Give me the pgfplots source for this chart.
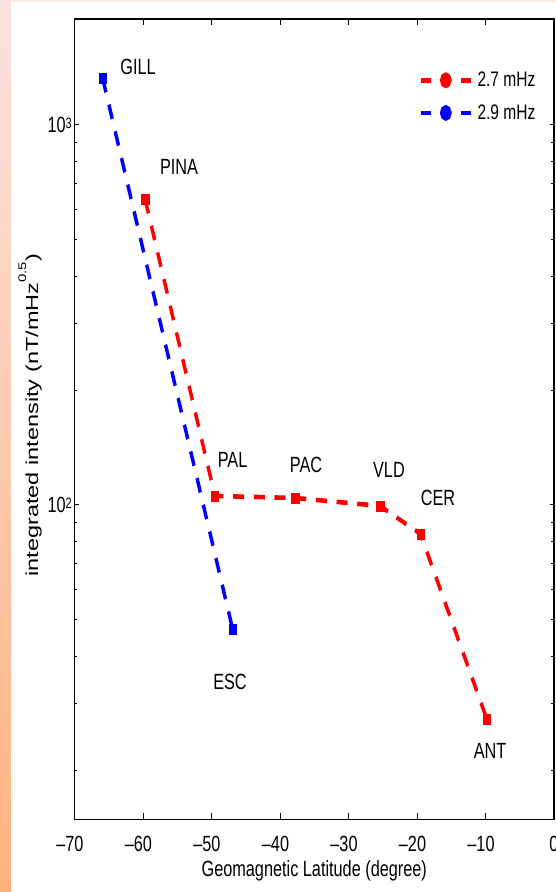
\documentclass[border=0pt]{standalone}
\usepackage{fontspec}
\setmainfont{Liberation Sans}
\usepackage{pgfplots}
\pgfplotsset{compat=1.18}
\definecolor{bgtop}{RGB}{251,226,224}
\definecolor{bgmid}{RGB}{252,206,178}
\definecolor{bgbot}{RGB}{253,178,125}
\definecolor{bgstrip}{RGB}{252,233,224}
\newcommand{\tfont}{\fontsize{22}{24}\selectfont}
\begin{document}
\begin{tikzpicture}[x=1pt,y=1pt]
\useasboundingbox (-74.5,-72.5) rectangle (481.5,819.5);
\fill[white] (-74.5,-72.5) rectangle (481.5,819.5);
\shade[top color=bgtop, middle color=bgmid, bottom color=bgbot] (-74.5,-72.5) rectangle (-63.5,819.5);
\fill[bgstrip] (-63.5,817.5) rectangle (481.5,819.5);
\begin{scope}[transform canvas={xscale=0.74}]
\begin{axis}[
  at={(0pt,0pt)}, anchor=south west, scale only axis,
  width=648pt, height=800.5pt,
  ymode=log,
  xmin=-70, xmax=0, ymin=14.87, ymax=1900,
  xtick={-70,-60,-50,-40,-30,-20,-10,0},
  xticklabels={\llap{\textendash}70,\llap{\textendash}60,\llap{\textendash}50,\llap{\textendash}40,\llap{\textendash}30,\llap{\textendash}20,\llap{\textendash}10,0},
  ytick={100,1000},
  yticklabels={10\raisebox{4pt}{\fontsize{15}{16}\selectfont 2},10\raisebox{4pt}{\fontsize{15}{16}\selectfont 3}},
  minor ytick={20,30,40,50,60,70,80,90,200,300,400,500,600,700,800,900},
  major tick length=6pt, minor tick length=3.5pt,
  tick style={black, line width=1pt},
  axis line style={black, line width=1.5pt},
  tick label style={font=\tfont},
  xticklabel style={anchor=base, yshift=-32.5pt, inner sep=0pt},
  yticklabel style={anchor=east, inner sep=0pt, xshift=-3.4pt},
  xlabel={Geomagnetic Latitude (degree)},
  xlabel style={font=\tfont, at={(axis description cs:0.5,-0.0718)}, anchor=base, inner sep=0pt},
  ylabel={integrated intensity (nT/mHz\raisebox{0.68em}{\fontsize{15}{16}\selectfont 0.5})},
  ylabel style={font=\fontsize{23.5}{25}\selectfont, at={(axis description cs:-0.0761,0.505)}, anchor=base, inner sep=0pt},
  legend style={draw=none, fill=none, at={(axis description cs:0.7184,0.9338)}, anchor=north west, inner sep=0pt, row sep=16.5pt, column sep=6.8pt, nodes={inner sep=0pt}, font=\fontsize{21}{23}\selectfont},
  legend cell align=left,
  legend image code/.code={
    \draw[#1, solid] (0pt,0pt) -- (13.5pt,0pt) (54pt,0pt) -- (67.5pt,0pt);
    \fill[#1, solid] (33.75pt,0pt) circle (5.6pt);
  },
]
\addplot[red, line width=4.6pt, dash pattern=on 15pt off 13pt, mark=square*, mark size=5pt, mark options={solid, line width=0.5pt}]
  coordinates {(-59.7,638) (-49.5,105.6) (-37.8,104.3) (-25.4,99.4) (-19.5,83.9) (-9.8,27.3)};
\addlegendentry{2.7 mHz}
\addplot[blue, line width=4.6pt, dash pattern=on 15pt off 13pt, mark=square*, mark size=5pt, mark options={solid, line width=0.5pt}]
  coordinates {(-65.9,1329) (-46.9,47.0)};
\addlegendentry{2.9 mHz}
\node[font=\tfont, anchor=base] at (axis cs:-60.73,1354) {GILL};
\node[font=\tfont, anchor=base] at (axis cs:-54.74,738.8) {PINA};
\node[font=\tfont, anchor=base] at (axis cs:-46.93,125.1) {PAL};
\node[font=\tfont, anchor=base] at (axis cs:-36.2,121.9) {PAC};
\node[font=\tfont, anchor=base] at (axis cs:-24.1,118.3) {VLD};
\node[font=\tfont, anchor=base] at (axis cs:-16.93,99.4) {CER};
\node[font=\tfont, anchor=base] at (axis cs:-47.3,32.7) {ESC};
\node[font=\tfont, anchor=base] at (axis cs:-9.34,21.55) {ANT};
\end{axis}
\end{scope}
\end{tikzpicture}
\end{document}
